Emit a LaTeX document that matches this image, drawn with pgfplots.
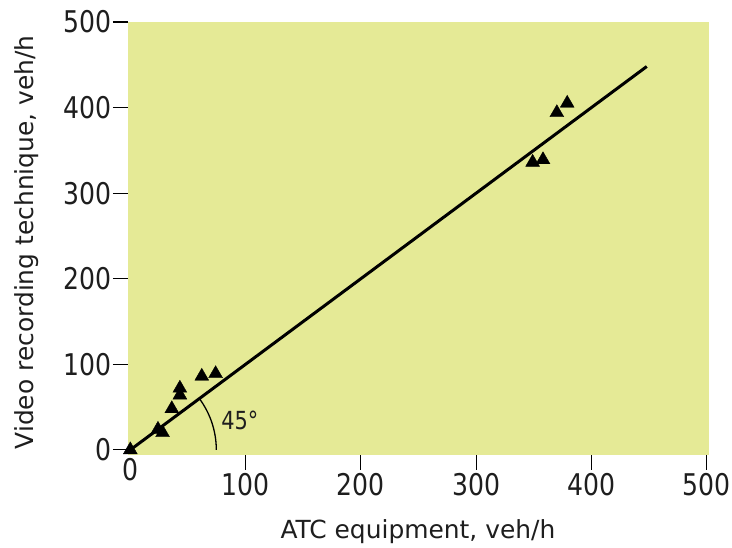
\documentclass[border=0pt]{standalone}
\usepackage{fontspec}
\setmainfont{DejaVu Sans}
\newfontfamily\tickfont[FakeStretch=0.84]{DejaVu Sans}
\usepackage{pgfplots}
\pgfplotsset{compat=1.18}
\definecolor{bgfill}{RGB}{229,234,150}
\definecolor{txt}{RGB}{30,30,30}
\begin{document}
\begin{tikzpicture}
\path (-128bp,-90bp) rectangle (604bp,455bp);
\begin{axis}[
  at={(0,0)}, anchor=south west,
  scale only axis, width=581bp, height=433bp,
  xmin=-2, xmax=502, ymin=-6, ymax=500,
  axis line style={draw=none},
  axis background/.style={fill=bgfill},
  xtick={100,200,300,400,500}, ytick={0,100,200,300,400,500},
  extra x ticks={0}, extra x tick style={major tick length=0pt},
  xtick pos=bottom, ytick pos=left,
  tick align=outside, major tick length=15bp,
  tick style={black, line width=1.2bp},
  /pgf/number format/assume math mode=true,
  tick label style={font=\fontsize{30}{30}\tickfont, text=txt},
  xticklabel style={inner xsep=0pt},
  yticklabel style={xshift=2bp},
  xlabel={ATC equipment, veh/h},
  ylabel={Video recording technique, veh/h},
  xlabel style={at={(axis description cs:0.499,-0.177)}, anchor=center, font=\fontsize{25}{25}\selectfont, text=txt},
  ylabel style={at={(axis description cs:-0.175,0.491)}, anchor=center, rotate=0, font=\fontsize{25}{25}\selectfont, text=txt},
  clip=false,
]
\addplot[black, line width=3bp] coordinates {(0,0) (448,448)};
\addplot[only marks, mark=triangle*, mark size=8bp, black] coordinates {
  (0,0) (24,24) (28,20) (36,48) (43,72) (43,64) (62,86) (74,89)
  (349,336) (358,339) (370,394) (379,405)
};
\draw[black, line width=1.3bp] (axis cs:0,0) ++(0:86bp) arc[start angle=0, end angle=36.6, radius=86bp];
\node[font=\fontsize{25}{25}\tickfont, text=txt] at (axis cs:95,34) {45°};
\end{axis}
\end{tikzpicture}
\end{document}
